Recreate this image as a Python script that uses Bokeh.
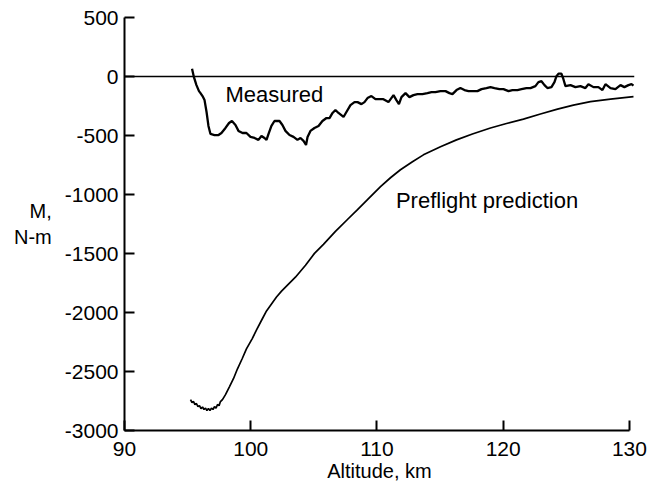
from bokeh.plotting import figure
from bokeh.models import Label, Range1d, Span
from bokeh.embed import file_html
from bokeh.resources import INLINE

# Measured moment (altitude km, M in N-m)
meas_alt = [95.35, 95.50, 95.70, 95.90, 96.02, 96.18, 96.34, 96.50, 96.65, 96.81,
            97.13, 97.45, 97.68, 98.00, 98.28, 98.51, 98.79, 99.03, 99.35, 99.66,
            99.98, 100.30, 100.61, 100.85, 101.09, 101.25, 101.41, 101.64, 101.88, 102.28,
            102.51, 102.75, 103.07, 103.39, 103.70, 103.94, 104.18, 104.38, 104.50, 104.73,
            105.05, 105.37, 105.68, 106.00, 106.24, 106.48, 106.71, 106.95, 107.35, 107.58,
            107.90, 108.22, 108.46, 108.77, 109.01, 109.25, 109.56, 109.88, 110.20, 110.51,
            110.91, 111.31, 111.54, 111.74, 111.94, 112.26, 112.57, 112.89, 113.21, 113.60,
            114.00, 114.32, 114.63, 115.03, 115.43, 115.74, 115.98, 116.30, 116.61, 116.93,
            117.25, 117.64, 117.96, 118.28, 118.67, 118.99, 119.31, 119.70, 120.02, 120.42,
            120.73, 121.13, 121.45, 121.84, 122.16, 122.55, 122.79, 123.03, 123.27, 123.50,
            123.82, 124.06, 124.22, 124.38, 124.61, 124.77, 124.93, 125.33, 125.72, 126.12,
            126.51, 126.75, 127.15, 127.54, 127.86, 128.10, 128.50, 128.89, 129.29, 129.60,
            129.92, 130.16, 130.32]
meas_m = [66, -6, -73, -124, -141, -166, -200, -301, -419, -487,
          -496, -496, -479, -436, -394, -377, -411, -461, -479, -479,
          -512, -521, -537, -504, -521, -537, -487, -419, -377, -377,
          -411, -461, -496, -512, -537, -521, -546, -580, -512, -461,
          -436, -419, -377, -352, -352, -309, -284, -309, -343, -301,
          -242, -217, -217, -234, -217, -183, -166, -192, -192, -192,
          -217, -158, -200, -234, -175, -141, -175, -158, -149, -149,
          -141, -132, -132, -124, -124, -141, -149, -115, -98, -115,
          -124, -124, -124, -107, -98, -90, -98, -107, -107, -124,
          -115, -115, -107, -98, -98, -82, -48, -40, -73, -98,
          -90, -48, 3, 24, 24, -23, -82, -73, -90, -82,
          -98, -65, -90, -90, -115, -65, -98, -107, -73, -90,
          -73, -65, -78]

# Preflight prediction
pred_alt = [95.23, 95.35, 95.47, 95.58, 95.70, 95.82, 95.94, 96.06, 96.18, 96.30,
            96.42, 96.53, 96.65, 96.77, 96.89, 97.01, 97.13, 97.25, 97.37, 97.49,
            97.60, 97.76, 98.00, 98.32, 98.63, 98.95, 99.32, 99.66, 100.11, 100.46,
            100.91, 101.25, 101.56, 102.04, 102.44, 102.91, 103.54, 104.34, 105.05, 105.76,
            106.71, 107.66, 108.46, 109.25, 110.28, 111.07, 111.86, 112.81, 113.68, 115.03,
            116.30, 117.56, 118.99, 120.26, 121.60, 122.95, 124.30, 125.56, 126.91, 128.50,
            130.32]
pred_m = [-2738, -2763, -2755, -2780, -2772, -2797, -2789, -2814, -2801, -2822,
          -2810, -2831, -2814, -2831, -2810, -2822, -2797, -2810, -2780, -2789,
          -2755, -2738, -2696, -2628, -2561, -2477, -2392, -2308, -2223, -2148,
          -2055, -1987, -1941, -1869, -1819, -1768, -1701, -1600, -1499, -1423,
          -1313, -1212, -1128, -1043, -934, -858, -790, -723, -664, -596,
          -537, -487, -436, -398, -361, -318, -276, -242, -213, -192,
          -171]

x_ticks = [90, 100, 110, 120, 130]
y_ticks = [500, 0, -500, -1000, -1500, -2000, -2500, -3000]
y_tick_labels = ["500", "0", "-500", "-1000", "-1500", "-2000", "-2500", "-3000"]

FONT = "Liberation Sans"

p = figure(width=654, height=489, output_backend="svg", toolbar_location=None,
           x_range=Range1d(90, 130.4), y_range=Range1d(-3000, 500),
           min_border_left=124, min_border_right=20, min_border_top=17,
           min_border_bottom=59)
p.outline_line_color = None
p.xgrid.visible = False
p.ygrid.visible = False
p.background_fill_color = "white"

for ax in (p.xaxis[0], p.yaxis[0]):
    ax.axis_line_width = 2
    ax.axis_line_color = "black"
    ax.major_tick_in = 10
    ax.major_tick_out = 0
    ax.major_tick_line_width = 2
    ax.major_tick_line_color = "black"
    ax.minor_tick_line_color = None
    ax.major_label_text_font = FONT
    ax.major_label_text_font_size = "21px"
    ax.major_label_text_color = "black"

p.xaxis.ticker = x_ticks
p.yaxis.ticker = y_ticks
p.yaxis.major_label_overrides = {t: s for t, s in zip(y_ticks, y_tick_labels)}
p.xaxis.bounds = (90, 130)
p.xaxis.major_label_standoff = 11
p.yaxis.major_label_standoff = 6
p.xaxis.axis_label = "Altitude, km"
p.xaxis.axis_label_text_font = FONT
p.xaxis.axis_label_text_font_style = "normal"
p.xaxis.axis_label_text_font_size = "20px"
p.xaxis.axis_label_standoff = 1
p.xaxis.axis_label_text_color = "black"

p.yaxis.axis_label = "M,\nN-m"
p.yaxis.axis_label_orientation = "horizontal"
p.yaxis.axis_label_text_font = FONT
p.yaxis.axis_label_text_font_style = "normal"
p.yaxis.axis_label_text_font_size = "20px"
p.yaxis.axis_label_text_color = "black"
p.yaxis.axis_label_text_align = "center"
p.yaxis.axis_label_standoff = 10

# zero reference line
zero = Span(location=0, dimension="width", line_color="black", line_width=1.6)
p.add_layout(zero)

p.line(meas_alt, meas_m, line_color="black", line_width=2.3)
p.line(pred_alt, pred_m, line_color="black", line_width=1.7)

p.add_layout(Label(x=98.0, y=-155, text="Measured", text_font=FONT,
                   text_font_size="22px", text_color="black", text_baseline="alphabetic"))
p.add_layout(Label(x=111.5, y=-1051, text="Preflight prediction", text_font=FONT,
                   text_font_size="22px", text_color="black", text_baseline="alphabetic"))

open("out.html", "w").write(file_html(p, INLINE))
